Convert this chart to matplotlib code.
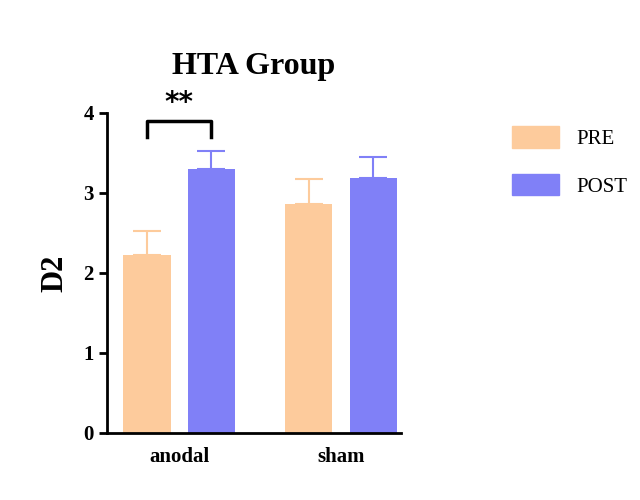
import matplotlib.pyplot as plt
import numpy as np
from matplotlib.patches import Patch

plt.rcParams["font.family"] = ["Liberation Serif", "DejaVu Serif"]

groups = ["anodal", "sham"]
pre_mean = [2.22, 2.86]
pre_err = [0.31, 0.31]
post_mean = [3.30, 3.19]
post_err = [0.22, 0.26]

pre_color = "#FDCB9C"
post_color = "#8080F7"

fig = plt.figure(figsize=(6.4, 5.0), dpi=100)
ax = fig.add_axes([0.167, 0.134, 0.46, 0.64])

centers = np.array([0.72, 2.33])
off = 0.32
w = 0.47
ax.bar(centers - off, pre_mean, w, color=pre_color)
ax.bar(centers + off, post_mean, w, color=post_color)
ax.errorbar(centers - off, pre_mean, yerr=[np.zeros(2), pre_err], fmt="none",
            ecolor=pre_color, elinewidth=1.5, capsize=10, capthick=1.5)
ax.errorbar(centers + off, post_mean, yerr=[np.zeros(2), post_err], fmt="none",
            ecolor=post_color, elinewidth=1.5, capsize=10, capthick=1.5)

# significance bracket
x1, x2 = centers[0] - off, centers[0] + off
ax.plot([x1, x1, x2, x2], [3.7, 3.9, 3.9, 3.7], color="black", lw=2.5, clip_on=False)
ax.text((x1 + x2) / 2, 3.95, "**", ha="center", va="bottom", fontsize=20,
        fontweight="bold", family="DejaVu Sans")

ax.set_xlim(0, 2.93)
ax.set_ylim(0, 4)
ax.set_yticks([0, 1, 2, 3, 4])
ax.set_xticks(centers)
ax.set_xticklabels(groups, fontsize=15, fontweight="bold")
ax.tick_params(axis="y", labelsize=15, width=2, length=6)
ax.tick_params(axis="x", length=0, pad=10)
for lbl in ax.get_yticklabels():
    lbl.set_fontweight("bold")
ax.spines["top"].set_visible(False)
ax.spines["right"].set_visible(False)
ax.spines["left"].set_linewidth(2)
ax.spines["bottom"].set_linewidth(2)
ax.set_ylabel("D2", fontsize=22, fontweight="bold", labelpad=10)
ax.set_title("HTA Group", fontsize=23, fontweight="bold", pad=28)

handles = [Patch(color=pre_color, label="PRE"), Patch(color=post_color, label="POST")]
fig.legend(handles=handles, loc="upper left", bbox_to_anchor=(0.77, 0.785),
           frameon=False, fontsize=15, handlelength=2.3, handleheight=1.2,
           labelspacing=1.2)

fig.savefig("out.png", dpi=100)
